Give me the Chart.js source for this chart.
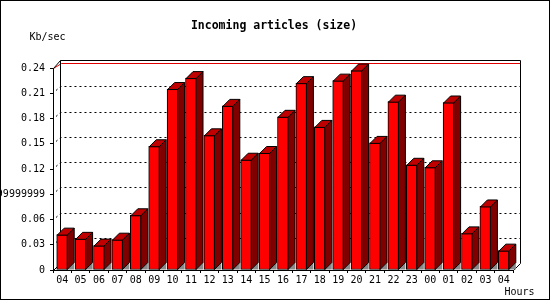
<!DOCTYPE html>
<html>
<head>
<meta charset="utf-8">
<script src="https://cdn.jsdelivr.net/npm/chart.js@4/dist/chart.umd.min.js"></script>
<style>
  body { margin: 0; background: #fff; }
  canvas { display: block; }
</style>
</head>
<body>
<canvas id="articlesChart" width="550" height="300"></canvas>
<script>
const hours = ["04", "05", "06", "07", "08", "09", "10", "11", "12", "13", "14", "15", "16",
               "17", "18", "19", "20", "21", "22", "23", "00", "01", "02", "03", "04"];
const kbPerSec = [0.042, 0.037, 0.029, 0.036, 0.065, 0.147, 0.215, 0.228, 0.160, 0.195, 0.131, 0.139, 0.182,
                  0.222, 0.170, 0.225, 0.237, 0.151, 0.200, 0.125, 0.122, 0.199, 0.0435, 0.0755, 0.023];
const yTickLabels = ["0", "0.03", "0.06", "0.0899999999", "0.12", "0.15", "0.18", "0.21", "0.24"];

const DEPTH = 7;
const MONO = "'DejaVu Sans Mono', monospace";

// back wall, grid and floor shadows behind the bars
const wallPlugin = {
  id: "wallPlugin",
  beforeDatasetsDraw(chart) {
    const { ctx, chartArea: a, scales: { y } } = chart;
    const wl = a.left + DEPTH + 0.5, wr = a.right + DEPTH + 0.5;
    const wt = a.top - DEPTH - 0.5, wb = a.bottom - DEPTH + 0.5;
    ctx.save();
    ctx.lineWidth = 1;

    // dotted grid on the back wall
    ctx.strokeStyle = "#000";
    ctx.setLineDash([2, 3]);
    y.ticks.forEach((t, i) => {
      if (i === 0 || i === y.ticks.length - 1) return;
      const py = Math.round(y.getPixelForValue(t.value)) + 0.5;
      ctx.beginPath();
      ctx.moveTo(a.left + 3, py - 3);
      ctx.lineTo(wl, py - DEPTH);
      ctx.lineTo(wr, py - DEPTH);
      ctx.stroke();
    });
    ctx.setLineDash([]);

    // red line along the top
    ctx.strokeStyle = "#e00000";
    ctx.beginPath();
    ctx.moveTo(a.left + 0.5, a.top + 0.5);
    ctx.lineTo(wl + 1, wt + 3);
    ctx.lineTo(wr, wt + 3);
    ctx.stroke();

    // wall outline
    ctx.strokeStyle = "#000";
    ctx.beginPath();
    ctx.moveTo(a.left + 0.5, a.top + 0.5);
    ctx.lineTo(wl, wt);
    ctx.moveTo(wl, wb);
    ctx.lineTo(wl, wt);
    ctx.lineTo(wr, wt);
    ctx.lineTo(wr, wb);
    ctx.lineTo(a.right + 0.5, a.bottom + 0.5);
    ctx.moveTo(a.left + 0.5, a.bottom + 0.5);
    ctx.lineTo(wl, wb);
    ctx.stroke();

    // grey shadows on the floor
    ctx.fillStyle = "#8a8a8a";
    chart.getDatasetMeta(0).data.forEach(bar => {
      const xr = bar.x + bar.width / 2 - 0.5;
      ctx.beginPath();
      ctx.moveTo(xr, bar.base);
      ctx.lineTo(xr + DEPTH, bar.base - DEPTH);
      ctx.lineTo(xr + DEPTH, bar.base);
      ctx.closePath();
      ctx.fill();
    });
    ctx.restore();
  },

  // side and top faces of each bar
  afterDatasetsDraw(chart) {
    const { ctx } = chart;
    ctx.save();
    ctx.lineWidth = 1;
    ctx.strokeStyle = "#000";
    chart.getDatasetMeta(0).data.forEach(bar => {
      const xl = bar.x - bar.width / 2 + 0.5;
      const xr = bar.x + bar.width / 2 - 0.5;
      const yt = bar.y + 0.5;
      const yb = bar.base;

      ctx.fillStyle = "#800000";
      ctx.beginPath();
      ctx.moveTo(xr, yt);
      ctx.lineTo(xr + DEPTH, yt - DEPTH);
      ctx.lineTo(xr + DEPTH, yb - DEPTH);
      ctx.lineTo(xr, yb);
      ctx.closePath();
      ctx.fill();
      ctx.stroke();

      ctx.fillStyle = "#c00000";
      ctx.beginPath();
      ctx.moveTo(xl, yt);
      ctx.lineTo(xl + DEPTH, yt - DEPTH);
      ctx.lineTo(xr + DEPTH, yt - DEPTH);
      ctx.lineTo(xr, yt);
      ctx.closePath();
      ctx.fill();
      ctx.stroke();
    });
    ctx.restore();
  },

  // titles and image border
  afterDraw(chart) {
    const { ctx } = chart;
    ctx.save();
    ctx.fillStyle = "#000";
    ctx.textBaseline = "middle";
    ctx.textAlign = "center";
    ctx.font = "bold 11.5px " + MONO;
    ctx.fillText("Incoming articles (size)", 274, 26);
    ctx.textAlign = "left";
    ctx.font = "10px " + MONO;
    ctx.fillText("Kb/sec", 29.5, 37);
    ctx.fillText("Hours", 504.5, 292);
    ctx.strokeStyle = "#000";
    ctx.lineWidth = 1;
    ctx.strokeRect(0.5, 0.5, 549, 299);
    ctx.restore();
  }
};

const ctx = document.getElementById("articlesChart").getContext("2d");
new Chart(ctx, {
  type: "bar",
  data: {
    labels: hours,
    datasets: [{
      data: kbPerSec,
      backgroundColor: "#ff0000",
      borderColor: "#000",
      borderWidth: 1,
      borderSkipped: false,
      barThickness: 11
    }]
  },
  options: {
    responsive: false,
    animation: false,
    devicePixelRatio: 1,
    layout: { padding: { top: 68, right: 37, left: 0, bottom: 0 } },
    plugins: {
      legend: { display: false },
      title: { display: false },
      tooltip: { enabled: false }
    },
    scales: {
      x: {
        offset: true,
        afterFit: s => { s.height = 30; },
        grid: { offset: true, drawOnChartArea: false, tickLength: 3, color: "#000" },
        border: { color: "#000", width: 1 },
        ticks: { color: "#000", padding: 1, maxRotation: 0, autoSkip: false, font: { family: MONO, size: 10 } }
      },
      y: {
        min: 0,
        max: 0.24,
        afterFit: s => { s.width = 53; },
        grid: { drawOnChartArea: false, tickLength: 3, color: "#000" },
        border: { color: "#000", width: 1 },
        ticks: {
          stepSize: 0.03,
          color: "#000",
          padding: 5,
          font: { family: MONO, size: 10 },
          callback: (v, i) => yTickLabels[i]
        }
      }
    }
  },
  plugins: [wallPlugin]
});
</script>
</body>
</html>
